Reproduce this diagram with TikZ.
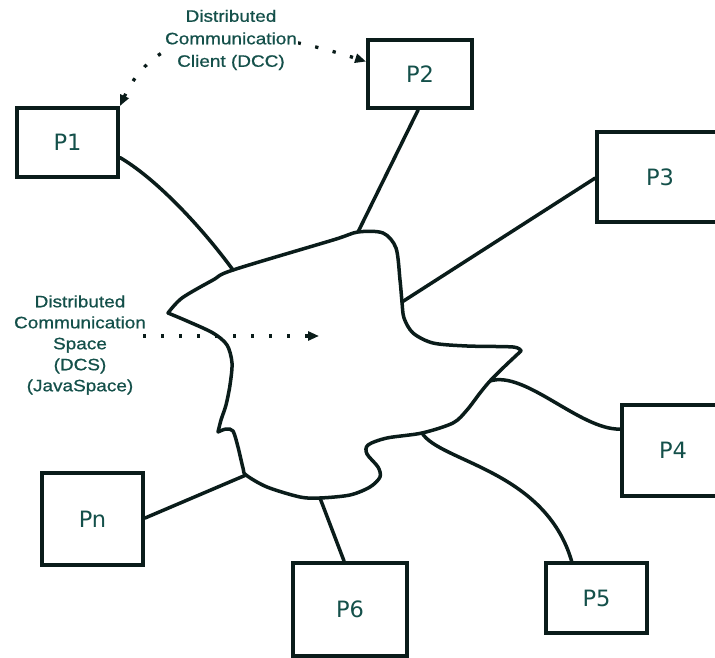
\documentclass[tikz,border=0pt]{standalone}
\usepackage{fontspec}
\usetikzlibrary{arrows.meta}
\newfontfamily\notefont[FakeStretch=1.15,FakeBold=0.8]{Liberation Sans}
\newfontfamily\boxfont{DejaVu Sans}
\definecolor{ink}{RGB}{10,28,26}
\definecolor{txt}{RGB}{20,80,74}

\begin{document}
\begin{tikzpicture}[x=1pt,y=-1pt,
  >={Triangle[length=11pt,width=9pt]},
  proc/.style={draw=ink, line width=3.8pt, fill=white, inner sep=0pt,
    font=\boxfont\fontsize{22.5}{26}\selectfont, text=txt},
  link/.style={draw=ink, line width=3.5pt, line cap=round, line join=round},
  cloud/.style={draw=ink, line width=3.5pt, line cap=round, line join=round, fill=white},
  note/.style={align=center, text=txt, inner sep=1pt},
  dotline/.style={draw=ink, line width=3.3pt, dash pattern=on 3.3pt off 14.7pt}
]
\useasboundingbox (0,0) rectangle (715,658);
\clip (0,0) rectangle (715,658);

% process boxes
\node[proc, minimum width=101pt, minimum height=69pt] (P1) at (67.5,142.5) {P1};
\node[proc, minimum width=104pt, minimum height=68pt] (P2) at (420,74) {P2};
\node[proc, minimum width=126pt, minimum height=90pt] (P3) at (660,177) {P3};
\node[proc, minimum width=102pt, minimum height=91pt] (P4) at (673,450.5) {P4};
\node[proc, minimum width=101pt, minimum height=70pt] (P5) at (596.5,598) {P5};
\node[proc, minimum width=114pt, minimum height=93pt] (P6) at (350,609.5) {P6};
\node[proc, minimum width=101pt, minimum height=92pt] (Pn) at (92.5,519) {Pn};

% attachment points on the space outline
\coordinate (tipL) at (168,313);
\coordinate (tipR) at (521,351);
\coordinate (hook) at (218,432);
\coordinate (jP1) at (233,270);
\coordinate (jP2) at (358,232);
\coordinate (jP3) at (402,302);
\coordinate (jP4) at (490,381);
\coordinate (jP5) at (422,433);
\coordinate (jP6) at (320,498);
\coordinate (jPn) at (246,475);

% the shared communication space
\path[cloud] (tipL)
  -- plot[smooth, tension=0.5] coordinates {(tipL) (182,298) (213,280) (jP1) (333,240)
       (jP2) (383,233) (396,248) (400,280) (jP3) (404,318) (413,333) (433,343)
       (467,346) (513,347) (tipR)}
  -- plot[smooth, tension=0.5] coordinates {(tipR) (505,366) (jP4) (480,393) (467,410)
       (453,423) (jP5) (387,438) (368,445) (367,454) (378,467) (380,477) (370,487)
       (350,495) (jP6) (300,497) (267,487) (jPn) (243,468) (238,447) (233,431)
       (226,429) (hook)}
  -- plot[smooth, tension=0.5] coordinates {(hook) (221,420) (226,405) (230,385)
       (232,363) (227,345) (213,333) (187,321) (tipL)}
  -- cycle;

% links from the processes to the space
\draw[link] (P1.-16) .. controls (155,178) and (200,225) .. (jP1);
\draw[link] (P2.-93) -- (jP2);
\draw[link] (jP3) -- (P3.181);
\draw[link] (jP4) .. controls (525,370) and (580,430) .. (P4.158);
\draw[link] (jP5) .. controls (440,462) and (545,470) .. (P5.124);
\draw[link] (jP6) -- (P6.97);
\draw[link] (jPn) -- (Pn.1);

% client link between P1 and P2
\draw[dotline, <->] (P1.north east) .. controls (160,20) and (250,25) .. (P2.167);
\node[note, fill=white, font=\notefont\fontsize{16.5}{22.5}\selectfont] (dcc) at (231,40)
  {Distributed\\Communication\\Client (DCC)};

% space label
\node[note, font=\notefont\fontsize{16.5}{21}\selectfont] (dcs) at (80,345)
  {Distributed\\Communication\\Space\\(DCS)\\(JavaSpace)};
\coordinate (dcsFrom) at (143,336);
\coordinate (dcsTo) at (319,336);
\draw[dotline, ->] (dcsFrom) -- (dcsTo);
\end{tikzpicture}
\end{document}
